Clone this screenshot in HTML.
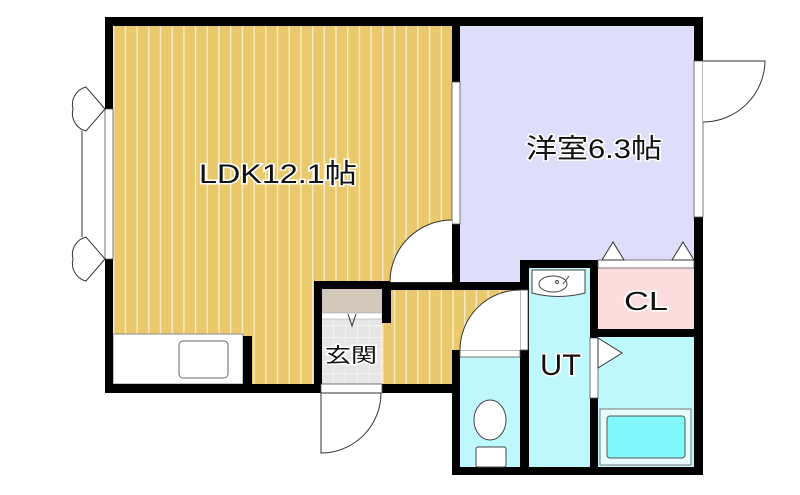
<!DOCTYPE html>
<html><head><meta charset="utf-8"><style>
html,body{margin:0;padding:0;background:#fff;width:800px;height:495px;overflow:hidden}
svg{display:block}
text{font-family:"Liberation Sans","Noto Sans CJK JP",sans-serif}
</style></head><body>
<svg width="800" height="495" viewBox="0 0 800 495" xmlns="http://www.w3.org/2000/svg">
<defs>
<pattern id="wood" x="113" y="0" width="11.7" height="10" patternUnits="userSpaceOnUse">
<rect width="11.7" height="10" fill="#e9c96c"/>
<rect x="0" width="1.4" height="10" fill="#f8ecc4"/>
</pattern>
<pattern id="tile" x="321" y="313" width="12" height="12" patternUnits="userSpaceOnUse">
<rect width="12" height="12" fill="#e6e6e6"/>
<path d="M0 0H12M0 0V12" stroke="#fff" stroke-width="1"/>
</pattern>
</defs>
<rect x="113" y="26" width="339" height="358" fill="url(#wood)"/>
<rect x="391" y="290" width="129" height="94" fill="url(#wood)"/>
<rect x="460" y="26" width="234" height="256" fill="#dedefa"/>
<rect x="520" y="26" width="174" height="234" fill="#dedefa"/>
<rect x="321" y="289" width="61" height="95" fill="url(#tile)"/>
<rect x="322" y="289" width="60" height="24" fill="#d2c8bc"/>
<rect x="321" y="313" width="61" height="6" fill="#fff" stroke="#999" stroke-width="0.5"/>
<rect x="460" y="350" width="60" height="117" fill="#bef8fc"/>
<rect x="529" y="268" width="61" height="199" fill="#bef8fc"/>
<rect x="598" y="268" width="96" height="61" fill="#fcdcdc"/>
<rect x="598" y="337" width="96" height="130" fill="#bef8fc"/>
<rect x="113" y="334" width="130" height="50" fill="#fff" stroke="#888" stroke-width="1"/>
<rect x="179" y="341" width="49" height="37" rx="4" fill="#fff" stroke="#666" stroke-width="1"/>
<g fill="#000">
<rect x="105" y="17" width="598" height="9"/>
<rect x="105" y="17" width="8" height="376"/>
<rect x="105" y="384" width="216" height="9"/>
<rect x="243" y="336" width="9" height="57"/>
<rect x="452" y="17" width="8" height="273"/>
<rect x="314" y="281" width="8" height="112"/>
<rect x="314" y="281" width="77" height="8"/>
<rect x="382" y="281" width="9" height="42"/>
<rect x="382" y="282" width="138" height="8"/>
<rect x="382" y="384" width="78" height="9"/>
<rect x="452" y="350" width="8" height="125"/>
<rect x="452" y="467" width="251" height="8"/>
<rect x="520" y="260" width="9" height="215"/>
<rect x="520" y="260" width="78" height="8"/>
<rect x="590" y="260" width="8" height="215"/>
<rect x="590" y="329" width="113" height="8"/>
<rect x="694" y="17" width="9" height="458"/>
</g>
<g fill="#fff" stroke="#555" stroke-width="0.8">
<rect x="105" y="109" width="8" height="150"/>
<rect x="452" y="82" width="8" height="142"/>
<rect x="694" y="61" width="9" height="156"/>
<rect x="520" y="290" width="8" height="60"/>
<rect x="590" y="338" width="8" height="60"/>
<rect x="598" y="260" width="96" height="8"/>
<rect x="391" y="274" width="61" height="8"/>
<rect x="460" y="350" width="60" height="7"/>
<rect x="321" y="384" width="61" height="9"/>
</g>
<g fill="#fff" stroke="#333" stroke-width="1">
<path d="M452 220 A62 62 0 0 0 390 282 L452 282 Z" stroke="none"/>
<path d="M452 220 A62 62 0 0 0 390 282"/>
<path d="M520 290 A60 60 0 0 0 460 350 L520 350 Z" stroke="none"/>
<path d="M520 290 A60 60 0 0 0 460 350"/>
<path d="M321 393 L381 393 A60 60 0 0 1 321 453 Z"/>
<path d="M703 61 L765 61 A62 62 0 0 1 703 122"/>
<path d="M105 109 L86 87 A18 18 0 0 0 73 109 A18 18 0 0 0 86 131 Z"/>
<path d="M105 259 L86 237 A18 18 0 0 0 73 259 A18 18 0 0 0 86 281 Z"/>
<line x1="82" y1="131" x2="82" y2="237"/>
<path d="M598 338 L622 353 L598 368 Z"/>
<path d="M602 260 L613 242 L624 260 Z"/>
<path d="M672 260 L683 242 L694 260 Z"/>
<path d="M348 314 L352 326 L356 314" fill="none"/>
</g>
<g fill="#fff" stroke="#444" stroke-width="1">
<rect x="476" y="447" width="30" height="20" rx="2"/>
<ellipse cx="490" cy="420" rx="16" ry="20"/>
</g>
<g stroke="#444" stroke-width="1">
<path d="M532 270 H585 V293 Q558 300 532 293 Z" fill="#fff"/>
<ellipse cx="553" cy="284" rx="14" ry="8" fill="#fff"/>
<circle cx="557" cy="282" r="1.5" fill="none"/>
<line x1="563" y1="284" x2="569" y2="276"/>
</g>
<rect x="600" y="409" width="91" height="56" fill="#e8fcfc" stroke="#777" stroke-width="1"/>
<rect x="607" y="416" width="78" height="42" rx="3" fill="#80f8fc" stroke="#555" stroke-width="1"/>
<g fill="#111" stroke="#fff" stroke-width="3" paint-order="stroke">
<text x="199" y="183" font-size="27" textLength="158" lengthAdjust="spacingAndGlyphs">LDK12.1帖</text>
<text x="526" y="158" font-size="27" textLength="136" lengthAdjust="spacingAndGlyphs">洋室6.3帖</text>
<text x="325" y="362" font-size="20" textLength="52" lengthAdjust="spacingAndGlyphs">玄関</text>
<text x="540" y="375" font-size="30" textLength="41" lengthAdjust="spacingAndGlyphs">UT</text>
<text x="624" y="310" font-size="26" textLength="44" lengthAdjust="spacingAndGlyphs">CL</text>
</g>
</svg>
</body></html>
